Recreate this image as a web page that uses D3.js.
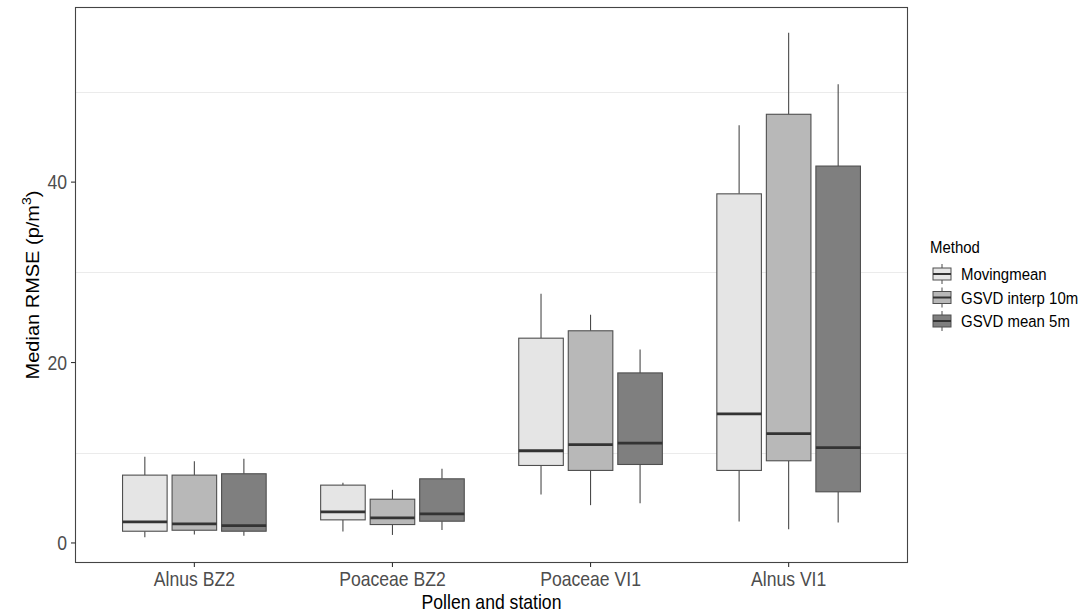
<!DOCTYPE html>
<html>
<head>
<meta charset="utf-8">
<script src="https://cdn.jsdelivr.net/npm/d3@7"></script>
<style>
  html, body { margin: 0; padding: 0; background: #fff; }
  svg { display: block; font-family: "Liberation Sans", Arial, sans-serif; }
</style>
</head>
<body>
<svg id="chart" width="1091" height="615"></svg>
<script>
// Categories (pollen type and station) and methods
const categories = ["Alnus BZ2", "Poaceae BZ2", "Poaceae VI1", "Alnus VI1"];
const methods = ["Movingmean", "GSVD interp 10m", "GSVD mean 5m"];
const methodFills = ["#e5e5e5", "#b8b8b8", "#7f7f7f"];

// Five-number summaries per category, one array per method:
// [lower whisker, lower hinge, median, upper hinge, upper whisker]
const movingmean = [
  [0.63, 1.30, 2.33, 7.52, 9.56],
  [1.26, 2.56, 3.44, 6.41, 6.67],
  [5.37, 8.59, 10.22, 22.70, 27.63],
  [2.37, 8.04, 14.30, 38.70, 46.30]
];
const gsvdInterp10m = [
  [0.93, 1.41, 2.11, 7.52, 9.07],
  [0.89, 2.04, 2.78, 4.85, 5.89],
  [4.19, 8.04, 10.89, 23.52, 25.30],
  [1.52, 9.11, 12.11, 47.52, 56.56]
];
const gsvdMean5m = [
  [0.81, 1.30, 1.93, 7.67, 9.33],
  [1.44, 2.41, 3.22, 7.11, 8.22],
  [4.41, 8.70, 11.07, 18.85, 21.44],
  [2.26, 5.67, 10.56, 41.78, 50.85]
];
const seriesValues = [movingmean, gsvdInterp10m, gsvdMean5m];

const yTicks = [0, 20, 40];
const yMinorGrid = [10, 30, 50];

// Layout
const panel = { left: 75.5, top: 7.5, right: 907.5, bottom: 562.5 };
const sx = 0.88;              // horizontal text compression
const fontSize = 20;
const legendFont = 17;

const svg = d3.select("#chart");

// Build flat records for drawing
const records = [];
categories.forEach((cat, ci) => {
  methods.forEach((m, mi) => {
    const v = seriesValues[mi][ci];
    records.push({ cat, method: m, mi, lo: v[0], q1: v[1], med: v[2], q3: v[3], hi: v[4] });
  });
});

// Scales
const x = d3.scaleBand()
  .domain(categories)
  .range([panel.left, panel.right])
  .paddingInner(0)
  .paddingOuter(0.1);

const dodgeWidth = x.bandwidth() * 0.75;
const xInner = d3.scaleBand()
  .domain(methods)
  .range([-dodgeWidth / 2, dodgeWidth / 2])
  .paddingInner(0.1)
  .paddingOuter(0.05);

const yMin = d3.min(records, d => d.lo);
const yMax = d3.max(records, d => d.hi);
const pad = (yMax - yMin) * 0.05;
const y = d3.scaleLinear()
  .domain([yMin - pad, yMax + pad])
  .range([panel.bottom, panel.top]);

const fill = d3.scaleOrdinal().domain(methods).range(methodFills);

// Minor gridlines
svg.append("g")
  .selectAll("line")
  .data(yMinorGrid)
  .join("line")
  .attr("x1", panel.left).attr("x2", panel.right)
  .attr("y1", d => Math.round(y(d)) + 0.5).attr("y2", d => Math.round(y(d)) + 0.5)
  .attr("stroke", "#ebebeb")
  .attr("stroke-width", 1);

// Boxplots
const boxes = svg.append("g")
  .selectAll("g")
  .data(records)
  .join("g")
  .attr("transform", d => `translate(${x(d.cat) + x.bandwidth() / 2},0)`);

const bw = xInner.bandwidth();

// whiskers
boxes.append("line")
  .attr("x1", d => xInner(d.method) + bw / 2)
  .attr("x2", d => xInner(d.method) + bw / 2)
  .attr("y1", d => y(d.hi)).attr("y2", d => y(d.q3))
  .attr("stroke", "#4a4a4a").attr("stroke-width", 1.1);
boxes.append("line")
  .attr("x1", d => xInner(d.method) + bw / 2)
  .attr("x2", d => xInner(d.method) + bw / 2)
  .attr("y1", d => y(d.q1)).attr("y2", d => y(d.lo))
  .attr("stroke", "#4a4a4a").attr("stroke-width", 1.1);

// box
boxes.append("rect")
  .attr("x", d => xInner(d.method))
  .attr("width", bw)
  .attr("y", d => y(d.q3))
  .attr("height", d => y(d.q1) - y(d.q3))
  .attr("fill", d => fill(d.method))
  .attr("stroke", "#4f4f4f")
  .attr("stroke-width", 1.1);

// median
boxes.append("line")
  .attr("x1", d => xInner(d.method))
  .attr("x2", d => xInner(d.method) + bw)
  .attr("y1", d => y(d.med)).attr("y2", d => y(d.med))
  .attr("stroke", "#333333")
  .attr("stroke-width", 2.8);

// Panel border
svg.append("rect")
  .attr("x", panel.left).attr("y", panel.top)
  .attr("width", panel.right - panel.left)
  .attr("height", panel.bottom - panel.top)
  .attr("fill", "none")
  .attr("stroke", "#444")
  .attr("stroke-width", 1.1);

// Helper for horizontally compressed text
function hText(g, tx, ty, str, opts) {
  return g.append("text")
    .attr("transform", `translate(${tx},${ty}) scale(${sx},1)`)
    .attr("text-anchor", opts.anchor || "start")
    .attr("font-size", opts.size)
    .attr("fill", opts.color || "#000")
    .text(str);
}

// Y axis
const yAxis = svg.append("g");
yAxis.selectAll("line")
  .data(yTicks)
  .join("line")
  .attr("x1", panel.left - 4.5).attr("x2", panel.left)
  .attr("y1", d => y(d)).attr("y2", d => y(d))
  .attr("stroke", "#333").attr("stroke-width", 1.1);
yTicks.forEach(t => {
  hText(yAxis, 67, y(t) + 7, String(t), { anchor: "end", size: fontSize, color: "#4d4d4d" });
});

// X axis
const xAxis = svg.append("g");
xAxis.selectAll("line")
  .data(categories)
  .join("line")
  .attr("x1", d => x(d) + x.bandwidth() / 2).attr("x2", d => x(d) + x.bandwidth() / 2)
  .attr("y1", panel.bottom).attr("y2", panel.bottom + 4.5)
  .attr("stroke", "#333").attr("stroke-width", 1.1);
categories.forEach(c => {
  hText(xAxis, x(c) + x.bandwidth() / 2, 586, c, { anchor: "middle", size: fontSize, color: "#4d4d4d" });
});

// Axis titles
hText(svg, (panel.left + panel.right) / 2, 609, "Pollen and station", { anchor: "middle", size: fontSize });

const yTitle = svg.append("text")
  .attr("transform", `translate(38.5,${(panel.top + panel.bottom) / 2}) rotate(-90) scale(1,${sx})`)
  .attr("text-anchor", "middle")
  .attr("font-size", fontSize)
  .attr("fill", "#000");
yTitle.append("tspan").text("Median RMSE (p/m");
yTitle.append("tspan").attr("font-size", fontSize * 0.7).attr("dy", -8).text("3");
yTitle.append("tspan").attr("dy", 8).text(")");

// Legend
const legend = svg.append("g");
hText(legend, 930, 253, "Method", { size: legendFont });
const keyRows = [274, 297.5, 321];
methods.forEach((m, i) => {
  const cy = keyRows[i];
  const kx = 942;
  const g = legend.append("g");
  g.append("line").attr("x1", kx).attr("x2", kx).attr("y1", cy - 10).attr("y2", cy + 10)
    .attr("stroke", "#4a4a4a").attr("stroke-width", 1);
  g.append("rect").attr("x", kx - 9).attr("y", cy - 6).attr("width", 18).attr("height", 12)
    .attr("fill", fill(m)).attr("stroke", "#4f4f4f").attr("stroke-width", 1);
  g.append("line").attr("x1", kx - 9).attr("x2", kx + 9).attr("y1", cy).attr("y2", cy)
    .attr("stroke", "#333").attr("stroke-width", 2);
  hText(legend, 961, cy + 6, m, { size: legendFont });
});
</script>
</body>
</html>
